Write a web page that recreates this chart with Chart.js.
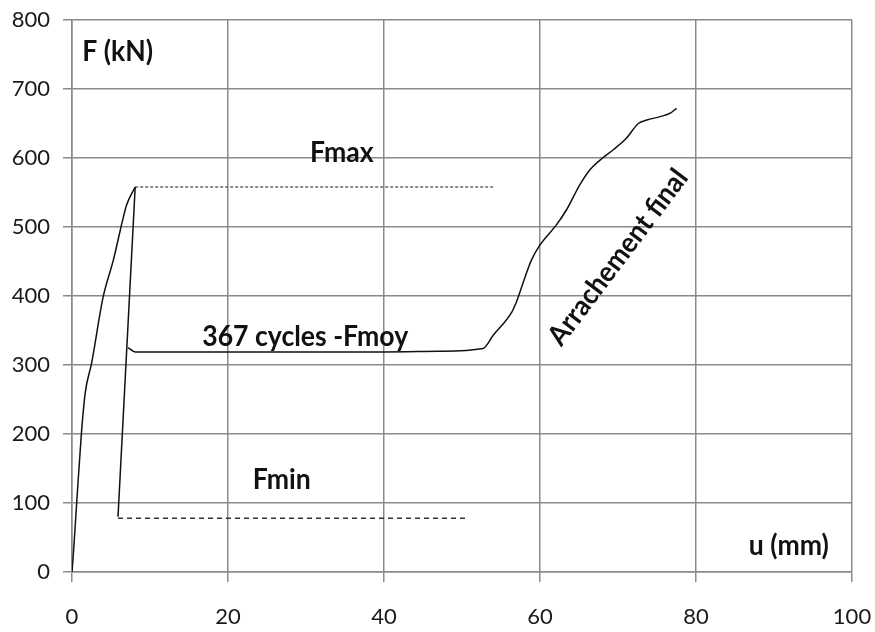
<!DOCTYPE html>
<html>
<head>
<meta charset="utf-8">
<script src="https://cdn.jsdelivr.net/npm/chart.js@4.4.1/dist/chart.umd.min.js"></script>
<style>
  html, body { margin: 0; padding: 0; background: #fff; }
  #wrap { width: 875px; height: 632px; }
</style>
</head>
<body>
<div id="wrap"><canvas id="fuChart" width="875" height="632"></canvas></div>
<script>
// loading curve up to Fmax
var loadU = [0, 0.2, 0.6, 1.2, 1.7, 2.5, 4.0, 5.3, 6.6, 7.0, 8.1];
var loadF = [0, 30, 100, 200, 260, 302, 399, 452, 515, 532, 558];

// straight drop from Fmax to Fmin
var dropU = [8.1, 5.9];
var dropF = [558, 80];

// 367 cycles at Fmoy, then final pull-out
var cycU = [7.2, 8.1, 20, 30, 40, 47, 52.7, 54.0, 56.4, 57.0, 58.1, 58.9, 60.0, 62.1, 63.4, 65.1, 66.4, 67.7, 69.4, 71.1, 72.6, 73.7, 75.4, 76.7, 77.5];
var cycF = [325, 319, 319, 319, 319, 320, 324, 343, 377, 392, 428, 452, 474, 503, 525, 561, 583, 597, 612, 629, 650, 655, 660, 665, 672];

// Fmax / Fmin reference lines
var fmaxU = [8.1, 54];
var fmaxF = [558, 558];
var fminU = [5.9, 50.8];
var fminF = [78, 78];

var xTicks = [0, 20, 40, 60, 80, 100];
var yTicks = [0, 100, 200, 300, 400, 500, 600, 700, 800];

// text labels [text, u, F, rotation deg, align]
var labels = [
  ["F (kN)", 1.3, 754, 0, "left"],
  ["Fmax", 34.6, 607, 0, "center"],
  ["367 cycles -Fmoy", 29.9, 340, 0, "center"],
  ["Fmin", 26.9, 133, 0, "center"],
  ["u (mm)", 91.9, 38, 0, "center"],
  ["Arrachement final", 70.0, 456, -53, "center"]
];

function pts(xs, ys) {
  var out = [];
  for (var i = 0; i < xs.length; i++) out.push({x: xs[i], y: ys[i]});
  return out;
}

var textPlugin = {
  id: 'textLabels',
  afterDatasetsDraw: function(chart) {
    var ctx = chart.ctx;
    var xs = chart.scales.x, ys = chart.scales.y;
    ctx.save();
    ctx.fillStyle = '#111';
    ctx.font = 'bold 28px Lato';
    ctx.textBaseline = 'middle';
    labels.forEach(function(l) {
      ctx.save();
      ctx.translate(xs.getPixelForValue(l[1]), ys.getPixelForValue(l[2]));
      ctx.rotate(l[3] * Math.PI / 180);
      ctx.scale(0.95, 1);
      ctx.textAlign = l[4];
      ctx.fillText(l[0], 0, 0);
      ctx.restore();
    });
    ctx.restore();
  }
};

var lineStyle = {showLine: true, pointRadius: 0, borderColor: '#111', borderWidth: 1.5, fill: false, tension: 0};
var smooth = {cubicInterpolationMode: 'monotone'};

var ctx = document.getElementById("fuChart").getContext("2d");
new Chart(ctx, {
  type: 'scatter',
  data: {
    datasets: [
      Object.assign({label: 'load', data: pts(loadU, loadF)}, lineStyle, smooth),
      Object.assign({label: 'drop', data: pts(dropU, dropF)}, lineStyle),
      Object.assign({label: 'cycles', data: pts(cycU, cycF)}, lineStyle, smooth),
      Object.assign({label: 'Fmax', data: pts(fmaxU, fmaxF)}, lineStyle, {borderColor: '#666', borderDash: [3, 2]}),
      Object.assign({label: 'Fmin', data: pts(fminU, fminF)}, lineStyle, {borderColor: '#333', borderDash: [5, 4]})
    ]
  },
  options: {
    responsive: false,
    animation: false,
    layout: {padding: {top: 20, right: 23, left: 0, bottom: 0}},
    plugins: {legend: {display: false}, tooltip: {enabled: false}},
    scales: {
      x: {
        type: 'linear', min: 0, max: 100,
        afterBuildTicks: function(s) { s.ticks = xTicks.map(function(v) { return {value: v}; }); },
        afterFit: function(s) { s.height = 60; s.paddingLeft = 0; s.paddingRight = 0; },
        grid: {color: '#8a8a8a', lineWidth: 1.5, tickLength: 10, drawTicks: true},
        border: {color: '#8a8a8a', width: 1.5},
        ticks: {color: '#1a1a1a', font: {family: 'Lato', size: 22}, padding: 22, maxRotation: 0}
      },
      y: {
        type: 'linear', min: 0, max: 800,
        afterBuildTicks: function(s) { s.ticks = yTicks.map(function(v) { return {value: v}; }); },
        afterFit: function(s) { s.width = 72; s.paddingTop = 0; s.paddingBottom = 0; },
        grid: {color: '#8a8a8a', lineWidth: 1.5, tickLength: 9, drawTicks: true},
        border: {color: '#8a8a8a', width: 1.5},
        ticks: {color: '#1a1a1a', font: {family: 'Lato', size: 22}, padding: 13}
      }
    }
  },
  plugins: [textPlugin]
});
</script>
</body>
</html>
